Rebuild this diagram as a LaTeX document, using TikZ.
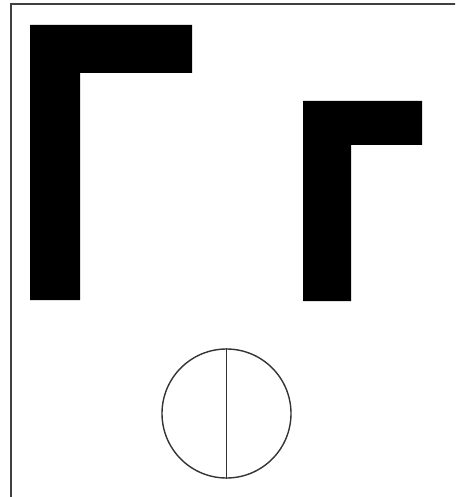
\documentclass[tikz,border=0pt]{standalone}
\usepackage{tikz}
\usetikzlibrary{positioning}

\begin{document}
\begin{tikzpicture}[
    x=1pt, y=-1pt,
    frame/.style = {draw=black!75, line width=1.9pt},
    gamma/.style = {fill=black, draw=none},
    disc/.style  = {circle, draw=black!80, line width=1.4pt, minimum size=129pt, inner sep=0pt},
    split/.style = {draw=black!80, line width=1.4pt}
  ]
  \useasboundingbox (0,0) rectangle (455,497);
  \clip (0,0) rectangle (455,497);

  % --- open frame (top and left edges) ---
  \draw[frame] (11,4) rectangle (470,520);

  % --- large gamma ---
  \fill[gamma] (30,25) -- (192,25) -- (192,73) -- (80,73) -- (80,300) -- (30,300) -- cycle;

  % --- small gamma ---
  \fill[gamma] (303,101) -- (422,101) -- (422,145) -- (351,145) -- (351,301) -- (303,301) -- cycle;

  % --- circle split by a vertical line ---
  \node[disc] (C) at (226.5,413.5) {};
  \draw[split] (C.north) -- (C.south);

\end{tikzpicture}
\end{document}
